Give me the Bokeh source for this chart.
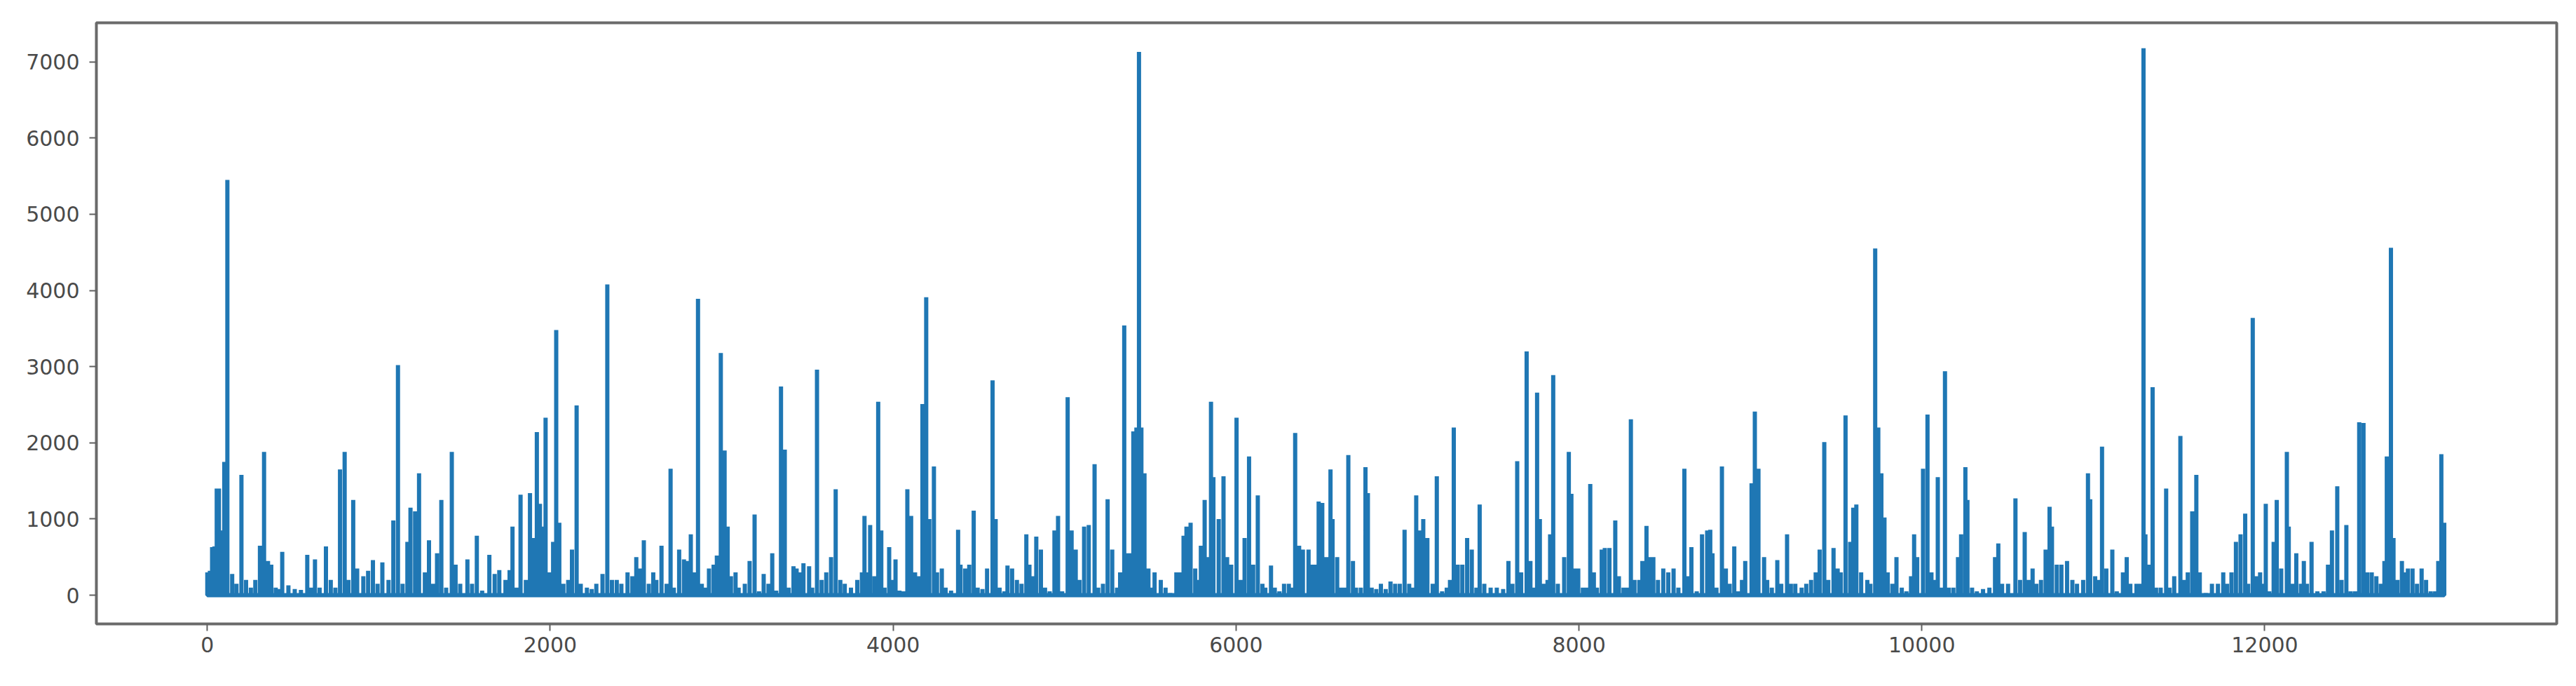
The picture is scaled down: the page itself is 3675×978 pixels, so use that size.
from bokeh.plotting import figure
from bokeh.models import Range1d, FixedTicker, ColumnDataSource
from bokeh.embed import file_html
from bokeh.resources import INLINE

# ---- data (index, value) ----
idx = [0, 15, 28, 42, 55, 68, 80, 99, 117, 145, 170, 199, 226, 254, 280, 307, 331, 354, 373, 399,
       418, 437, 473, 510, 546, 583, 605, 628, 655, 692, 720, 747, 774, 801, 823, 851, 874, 910, 938, 966,
       993, 1021, 1057, 1085, 1112, 1139, 1167, 1185, 1212, 1235, 1269, 1293, 1316, 1340, 1365, 1393, 1426, 1448, 1475,
       1517, 1544, 1572, 1603, 1645, 1676, 1703, 1739, 1763, 1780, 1803, 1827, 1858, 1882, 1900, 1922, 1940, 1959,
       1973, 1995, 2017, 2035, 2053, 2077, 2105, 2127, 2154, 2178, 2214, 2242, 2269, 2305, 2333, 2360, 2388, 2415,
       2451, 2479, 2502, 2524, 2546, 2575, 2601, 2619, 2649, 2679, 2702, 2721, 2752, 2780, 2798, 2820, 2838, 2862,
       2884, 2908, 2926, 2953, 2972, 2995, 3017, 3035, 3054, 3081, 3099, 3135, 3163, 3192, 3218, 3245, 3273, 3295,
       3318, 3346, 3368, 3391, 3419, 3437, 3455, 3477, 3510, 3528, 3556, 3583, 3610, 3638, 3665, 3692,
       3718, 3754, 3791, 3818, 3833, 3849, 3866, 3891, 3913, 3931, 3950, 3977, 3992, 4014, 4037, 4061, 4083, 4105,
       4128, 4152, 4171, 4193, 4211, 4238, 4256, 4284, 4306, 4338, 4379, 4393, 4420, 4444, 4470, 4493, 4521, 4548,
       4580, 4598, 4621, 4649, 4667, 4694, 4722, 4749, 4777, 4795, 4817, 4835, 4862, 4886, 4913, 4941, 4962, 4986,
       5018, 5041, 5065, 5087, 5114, 5141, 5175, 5196, 5224, 5251, 5278, 5306, 5324, 5348, 5370, 5388, 5401, 5419,
       5434, 5448, 5466, 5489, 5507, 5525, 5561, 5589, 5616, 5652, 5670, 5694, 5711, 5735, 5762, 5780, 5795, 5817,
       5835, 5854, 5868, 5899, 5927, 5948, 5972, 6003, 6026, 6050, 6076, 6100, 6127, 6154,
       6171, 6204, 6226, 6253, 6280, 6308, 6326, 6345, 6368, 6390, 6423, 6445, 6463, 6482, 6503, 6527, 6551, 6563,
       6590, 6612, 6631, 6655, 6682, 6700, 6728, 6755, 6769, 6791, 6818, 6845, 6873, 6901, 6928, 6955, 6983, 7010,
       7032, 7051, 7069, 7092, 7116, 7147, 7171, 7202, 7229, 7248, 7270, 7293, 7320, 7348, 7375, 7402, 7421, 7448,
       7485, 7521, 7558, 7589, 7612, 7640, 7663, 7695, 7717, 7732, 7756, 7772, 7795, 7817, 7832, 7850, 7877, 7914,
       7941, 7956, 7977, 7996, 8023, 8042, 8066, 8087, 8105, 8133, 8151, 8178, 8212, 8233, 8260, 8279, 8303, 8324,
       8352, 8370, 8394, 8416, 8434, 8461, 8492, 8521, 8552, 8580,
       8615, 8633, 8656, 8687, 8718, 8748, 8766, 8779, 8802, 8834, 8857, 8879, 8906, 8930, 8951, 8970, 9007, 9026,
       9047, 9080, 9098, 9125, 9157, 9180, 9214, 9236, 9262, 9299, 9326, 9354, 9381, 9404, 9431, 9454, 9485, 9509,
       9527, 9555, 9582, 9600, 9618, 9646, 9682, 9700, 9728, 9746, 9764, 9782, 9801, 9828, 9852, 9883, 9910, 9937,
       9955, 9973, 10007, 10033, 10056, 10074, 10093, 10111, 10135, 10157, 10184, 10211, 10229, 10254, 10266, 10293,
       10321, 10357, 10394, 10427, 10446, 10468, 10503, 10546, 10573, 10600, 10622, 10646, 10668, 10695, 10722, 10745,
       10759, 10787, 10814, 10847, 10878, 10905, 10941, 10969, 10982, 11011, 11032, 11051,
       11076, 11111, 11137, 11173, 11195, 11216, 11252, 11273, 11293, 11304, 11322, 11346, 11366, 11393, 11425, 11445,
       11472, 11508, 11530, 11551, 11577, 11601, 11621, 11656, 11692, 11727, 11758, 11780, 11806, 11832, 11859, 11886,
       11903, 11930, 11952, 11973, 11991, 12006, 12026, 12052, 12070, 12096, 12129, 12140, 12163, 12184, 12211, 12228,
       12246, 12273, 12307, 12343, 12369, 12392, 12423, 12448, 12476, 12501, 12527, 12551, 12576, 12598, 12624, 12651,
       12677, 12698, 12712, 12736, 12751, 12774, 12800, 12818, 12835, 12862, 12888, 12915, 12941, 12968, 12994, 13012,
       13030, 13047]

values = [300, 320, 630, 640, 1400, 1400, 850, 1750, 5450, 280, 150, 1580, 200, 100, 200, 650, 1880, 450, 400, 100,
          80, 570, 130, 80, 70, 530, 100, 470, 100, 640, 200, 100, 1650, 1880, 200, 1250, 350, 250, 320, 460,
          150, 430, 200, 980, 3020, 150, 700, 1150, 1100, 1600, 300, 720, 150, 550, 1250, 100, 1880, 400, 150,
          470, 150, 780, 60, 530, 280, 330, 200, 330, 900, 100, 1320, 200, 1340, 750, 2140, 1200, 900,
          2330, 300, 700, 3480, 950, 150, 200, 600, 2490, 150, 100, 80, 150, 280, 4080, 200, 200, 150,
          300, 250, 500, 350, 720, 150, 300, 200, 650, 150, 1660, 100, 600, 470, 450, 800, 300, 3890,
          150, 100, 350, 400, 520, 3180, 1900, 900, 250, 300, 100, 150, 450, 1060, 50, 280, 150, 550,
          60, 2740, 1910, 100, 380, 350, 300, 420, 380, 100, 2960, 200, 300, 500, 1390, 200,
          150, 100, 200, 300, 1040, 300, 920, 250, 2540, 850, 100, 630, 200, 470, 60, 50, 1390, 1040,
          300, 250, 2510, 3910, 1000, 1690, 300, 350, 100, 60, 860, 400, 350, 400, 1110, 100, 80, 350,
          2820, 1000, 100, 50, 390, 350, 200, 150, 800, 400, 250, 770, 600, 100, 50, 850, 1040, 50,
          2600, 850, 600, 200, 900, 920, 1720, 100, 150, 1260, 600, 100, 300, 3540, 550, 550, 2150, 2200,
          7130, 2200, 1600, 350, 100, 300, 200, 100, 30, 300, 300, 780, 900, 950, 350, 200, 650, 1250,
          500, 2540, 1550, 1000, 1560, 500, 400, 2330, 200, 750, 1820, 400, 1310, 150,
          100, 390, 100, 50, 150, 150, 100, 2130, 650, 600, 600, 400, 400, 1230, 1210, 500, 1650, 1000,
          500, 100, 100, 1840, 450, 100, 100, 1680, 1340, 100, 80, 150, 80, 180, 150, 150, 860, 150,
          100, 1310, 850, 1000, 750, 150, 1560, 50, 100, 200, 2200, 400, 400, 750, 600, 100, 1190, 150,
          100, 100, 80, 450, 150, 1760, 300, 3200, 450, 100, 2660, 1000, 150, 200, 800, 2890, 150, 500,
          1880, 1330, 350, 350, 100, 100, 1460, 300, 100, 600, 620, 620, 980, 250, 100, 100, 2310, 200,
          200, 450, 910, 500, 500, 200, 350, 300, 350, 100,
          1660, 250, 630, 50, 800, 850, 860, 550, 100, 1690, 350, 150, 640, 50, 200, 450, 1470, 2410,
          1660, 500, 200, 100, 460, 150, 800, 150, 150, 100, 150, 200, 300, 600, 2010, 200, 620, 350,
          300, 2360, 700, 1150, 1190, 300, 200, 150, 4550, 2200, 1600, 1020, 300, 150, 500, 100, 50, 250,
          800, 500, 1660, 2370, 300, 200, 1550, 100, 2940, 100, 100, 500, 800, 1680, 1250, 100,
          50, 80, 100, 500, 680, 150, 150, 1270, 200, 830, 200, 350, 150, 200, 600, 1160,
          900, 400, 400, 450, 200, 150, 200, 1600, 1260, 250, 200, 1950,
          350, 600, 50, 300, 500, 150, 150, 150, 7180, 800, 400, 2730, 100, 100, 1400, 100,
          250, 2090, 200, 300, 1100, 1580, 300, 30, 150, 150, 300, 150, 300, 700, 800, 1070,
          150, 3640, 250, 300, 150, 1200, 50, 700, 1250, 350, 1880, 900, 150, 550, 150, 450,
          150, 700, 50, 50, 400, 850, 1430, 200, 920, 50, 50, 2270, 2260, 300, 300, 250,
          150, 450, 1820, 4560, 750, 200, 450, 300, 350, 350, 150, 350, 200, 50, 50, 450,
          1850, 950]

baseline = 0  # the series drops back to ~0 between readings

x_ticks = [0, 2000, 4000, 6000, 8000, 10000, 12000]
y_ticks = [0, 1000, 2000, 3000, 4000, 5000, 6000, 7000]

# polyline: from the baseline up to each reading and back
xs, ys = [], []
for xi, yi in zip(idx, values):
    xs += [xi, xi, xi]
    ys += [baseline, yi, baseline]
src = ColumnDataSource(dict(x=xs, y=ys))

p = figure(width=3659, height=962, output_backend="svg", toolbar_location=None,
           x_range=Range1d(-647, 13703), y_range=Range1d(-377, 7513),
           min_border_left=137, min_border_right=12, min_border_top=32, min_border_bottom=73)

p.line("x", "y", source=src, line_color="#1f77b4", line_width=6)

p.xgrid.visible = False
p.ygrid.visible = False
p.background_fill_color = "white"
p.border_fill_color = "white"
p.outline_line_color = "#6a6a6a"
p.outline_line_width = 4

p.xaxis.ticker = FixedTicker(ticks=x_ticks)
p.yaxis.ticker = FixedTicker(ticks=y_ticks)
for ax in (p.xaxis, p.yaxis):
    ax.axis_line_color = None
    ax.major_tick_out = 10
    ax.major_tick_in = 0
    ax.major_tick_line_width = 2
    ax.major_tick_line_color = "#606060"
    ax.minor_tick_line_color = None
    ax.major_label_text_font = "DejaVu Sans"
    ax.major_label_text_font_size = "30px"
    ax.major_label_text_color = "#4a4a4a"
p.xaxis.major_label_standoff = 8
p.yaxis.major_label_standoff = 14

open("out.html", "w").write(file_html(p, INLINE))
